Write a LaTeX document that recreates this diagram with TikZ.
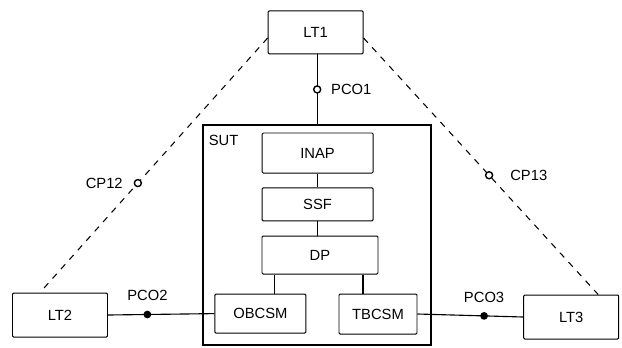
\documentclass[tikz,border=0pt]{standalone}
\usepackage{fontspec}
\setmainfont{Liberation Sans}
\usetikzlibrary{positioning}

\begin{document}
\begin{tikzpicture}[font=\fontsize{10.5}{12}\selectfont,
		box/.style={draw, line width=0.7pt, rounded corners=0.8pt, inner sep=0pt},
		wire/.style={line width=0.8pt},
		link/.style={line width=0.75pt, dash pattern=on 4.5pt off 4.5pt},
		opendot/.style={circle, draw, solid, fill=white, line width=1pt, inner sep=0pt, minimum size=5pt},
		fulldot/.style={circle, fill=black, inner sep=0pt, minimum size=5.5pt}]
		\useasboundingbox (0,0) rectangle (15.55,-8.675);
		% testers
		\node [box, minimum width=2.375cm, minimum height=1.075cm] (LT1) at (7.89,-0.81) {LT1};
		\node [box, minimum width=2.375cm, minimum height=1.1cm] (LT2) at (1.5,-7.875) {LT2};
		\node [box, minimum width=2.375cm, minimum height=1.1cm] (LT3) at (14.28,-7.925) {LT3};
		% system under test
		\node [draw, line width=0.75pt, minimum width=5.7cm, minimum height=5.5cm, inner sep=0pt] (SUT) at (7.925,-5.875) {};
		\node [anchor=north west, inner sep=0pt] (SUTlabel) at ([xshift=0.15cm, yshift=-0.25cm]SUT.north west) {SUT};
		\node [box, minimum width=2.775cm, minimum height=1.0cm] (INAP) at (7.94,-3.825) {INAP};
		\node [box, minimum width=2.775cm, minimum height=0.825cm] (SSF) at (7.94,-5.11) {SSF};
		\node [box, minimum width=2.9cm, minimum height=0.95cm] (DP) at (8.0,-6.375) {DP};
		\node [box, minimum width=2.275cm, minimum height=0.975cm] (OBCSM) at (6.51,-7.84) {OBCSM};
		\node [box, minimum width=1.95cm, minimum height=1.0cm] (TBCSM) at (9.45,-7.85) {TBCSM};
		% inner links
		\draw [wire] (INAP) -- (INAP |- SSF.north);
		\draw [wire] (SSF) -- (SSF.south |- DP.north);
		\draw [wire] ([xshift=0.35cm]OBCSM.north) -- ([xshift=0.35cm]OBCSM.north |- DP.south);
		\draw [wire] ([xshift=-0.375cm]TBCSM.north) -- ([xshift=-0.375cm]TBCSM.north |- DP.south);
		% points of control and observation
		\draw [wire] ([xshift=0.04cm]LT1.south) -- ([xshift=0.04cm]LT1.south |- SUT.north)
			node [opendot, pos=0.5] (PCO1) {};
		\node [right=0.12cm of PCO1] (PCO1label) {PCO1};
		\draw [wire] (LT2.east) -- (OBCSM.west) node [fulldot, pos=0.37] (PCO2) {};
		\node [above=0.1cm of PCO2] (PCO2label) {PCO2};
		\draw [wire] (TBCSM.east) -- (LT3.west) node [fulldot, pos=0.63] (PCO3) {};
		\node [above=0.1cm of PCO3] (PCO3label) {PCO3};
		% coordination points
		\draw [link] ([yshift=-0.14cm]LT1.west) -- ([xshift=-0.5cm]LT2.north)
			node [opendot, pos=0.57] (CP12) {};
		\node [left=0.15cm of CP12] (CP12label) {CP12};
		\draw [link] ([yshift=-0.14cm]LT1.east) -- ([xshift=0.675cm]LT3.north)
			node [opendot, pos=0.535] (CP13) {};
		\node [right=0.3cm of CP13] (CP13label) {CP13};
	\end{tikzpicture}
\end{document}
